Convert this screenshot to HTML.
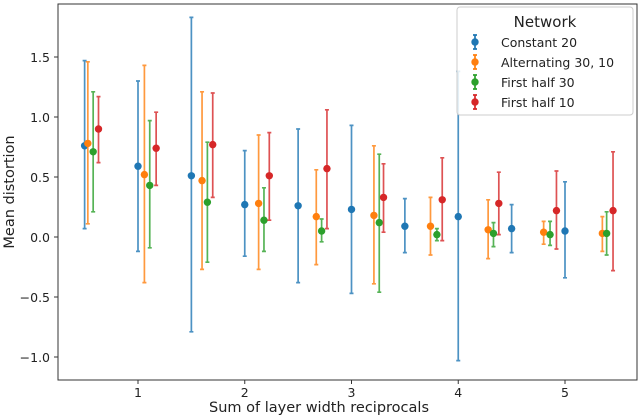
<!DOCTYPE html>
<html><head><meta charset="utf-8"><style>
html,body{margin:0;padding:0;background:#fff;}
svg{display:block;font-family:"DejaVu Sans","Liberation Sans",sans-serif;}
</style></head><body>
<svg id="chart" width="640" height="416" viewBox="0 0 640 416">
<rect x="58" y="4" width="579" height="376" fill="#fff" stroke="#333" stroke-width="1"/>
<g id="yaxis"></g>
<g id="xaxis"></g>
<g id="series"></g>
<text x="319" y="412" font-size="14.5" text-anchor="middle" fill="#222">Sum of layer width reciprocals</text>
<text transform="translate(14,192) rotate(-90)" font-size="14.5" text-anchor="middle" fill="#222">Mean distortion</text>
<g>
<rect x="457" y="7" width="176" height="108" rx="3" fill="#fff" fill-opacity="0.85" stroke="#ccc"/>
<text x="545" y="27" font-size="15" text-anchor="middle" fill="#222">Network</text>
<g id="legend-items"></g>
</g>
</svg>
<script>
const seriesNames = ["Constant 20","Alternating 30, 10","First half 30","First half 10"];
const colors = ["#1f77b4","#ff7f0e","#2ca02c","#d62728"];
const xC20 = [0.5,1.0,1.5,2.0,2.5,3.0,3.5,4.0,4.5,5.0];
const xAlt = [0.53,1.06,1.60,2.13,2.67,3.21,3.74,4.28,4.80,5.35];
const xF30 = [0.58,1.11,1.65,2.18,2.72,3.26,3.80,4.33,4.86,5.39];
const xF10 = [0.63,1.17,1.70,2.23,2.77,3.30,3.85,4.38,4.92,5.45];
const meanC20 = [0.76,0.59,0.51,0.27,0.26,0.23,0.09,0.17,0.07,0.05];
const lowC20 = [0.07,-0.12,-0.79,-0.16,-0.38,-0.47,-0.13,-1.03,-0.13,-0.34];
const highC20 = [1.47,1.30,1.83,0.72,0.90,0.93,0.32,1.38,0.27,0.46];
const meanAlt = [0.78,0.52,0.47,0.28,0.17,0.18,0.09,0.06,0.04,0.03];
const lowAlt = [0.11,-0.38,-0.27,-0.27,-0.23,-0.39,-0.15,-0.18,-0.06,-0.12];
const highAlt = [1.46,1.43,1.21,0.85,0.56,0.76,0.33,0.31,0.13,0.17];
const meanF30 = [0.71,0.43,0.29,0.14,0.05,0.12,0.02,0.03,0.02,0.03];
const lowF30 = [0.21,-0.09,-0.21,-0.12,-0.04,-0.46,-0.03,-0.08,-0.07,-0.15];
const highF30 = [1.21,0.97,0.79,0.41,0.15,0.69,0.07,0.12,0.13,0.21];
const meanF10 = [0.90,0.74,0.77,0.51,0.57,0.33,0.31,0.28,0.22,0.22];
const lowF10 = [0.62,0.43,0.33,0.14,0.07,0.04,-0.03,0.02,-0.10,-0.28];
const highF10 = [1.17,1.04,1.20,0.87,1.06,0.61,0.66,0.54,0.55,0.71];
const yTicks = [-1.0,-0.5,0.0,0.5,1.0,1.5];
const yTickLabels = ["\u22121.0","\u22120.5","0.0","0.5","1.0","1.5"];
const xTicks = [1,2,3,4,5];
const xTickLabels = ["1","2","3","4","5"];

const NS="http://www.w3.org/2000/svg";
function X(v){return 138+106.75*(v-1);}
function Y(v){return 237-120*v;}
function mk(tag,attrs,parent){const e=document.createElementNS(NS,tag);for(const k in attrs)e.setAttribute(k,attrs[k]);parent.appendChild(e);return e;}
const yaxis=document.getElementById('yaxis'), xaxis=document.getElementById('xaxis'), ser=document.getElementById('series');
yTicks.forEach((t,i)=>{
  const l=mk('line',{x1:54,x2:58,y1:Y(t),y2:Y(t),stroke:'#333'},yaxis);
  
  
  const tx=mk('text',{x:50,y:Y(t)+5,'font-size':12.5,'text-anchor':'end',fill:'#222'},yaxis);
  tx.textContent=yTickLabels[i];
  
  
});
xTicks.forEach((t,i)=>{
  const l=mk('line',{x1:X(t),x2:X(t),y1:380,y2:384,stroke:'#333'},xaxis);
  
  
  const tx=mk('text',{x:X(t),y:397,'font-size':12.5,'text-anchor':'middle',fill:'#222'},xaxis);
  tx.textContent=xTickLabels[i];
  
  
});
const all=[[xC20,meanC20,lowC20,highC20],[xAlt,meanAlt,lowAlt,highAlt],[xF30,meanF30,lowF30,highF30],[xF10,meanF10,lowF10,highF10]];
all.forEach((s,si)=>{
  const g=mk('g',{},ser);
  
  
  const c=colors[si];
  s[0].forEach((xv,i)=>{
    const x=X(xv), lo=Y(s[2][i]), hi=Y(s[3][i]);
    const eb=mk('path',{d:`M${x},${hi}V${lo}M${x-2},${hi}H${x+2}M${x-2},${lo}H${x+2}`,stroke:c,'stroke-width':1.7,fill:'none','stroke-opacity':0.8},g);
    
    
    const p=mk('circle',{cx:x,cy:Y(s[1][i]),r:3.7,fill:c},g);
    
    
  });
});
const li=document.getElementById('legend-items');
seriesNames.forEach((n,i)=>{
  const y=42+i*20, x=475, c=colors[i];
  const m=mk('path',{d:`M${x},${y-7}V${y+7}M${x-2},${y-7}H${x+2}M${x-2},${y+7}H${x+2}`,stroke:c,'stroke-width':1.7,fill:'none'},li);
  
  
  const cc=mk('circle',{cx:x,cy:y,r:3.7,fill:c},li);
  
  
  const t=mk('text',{x:501,y:y+5,'font-size':12.5,fill:'#222'},li);
  t.textContent=n;
  
  
});
</script>
</body></html>
